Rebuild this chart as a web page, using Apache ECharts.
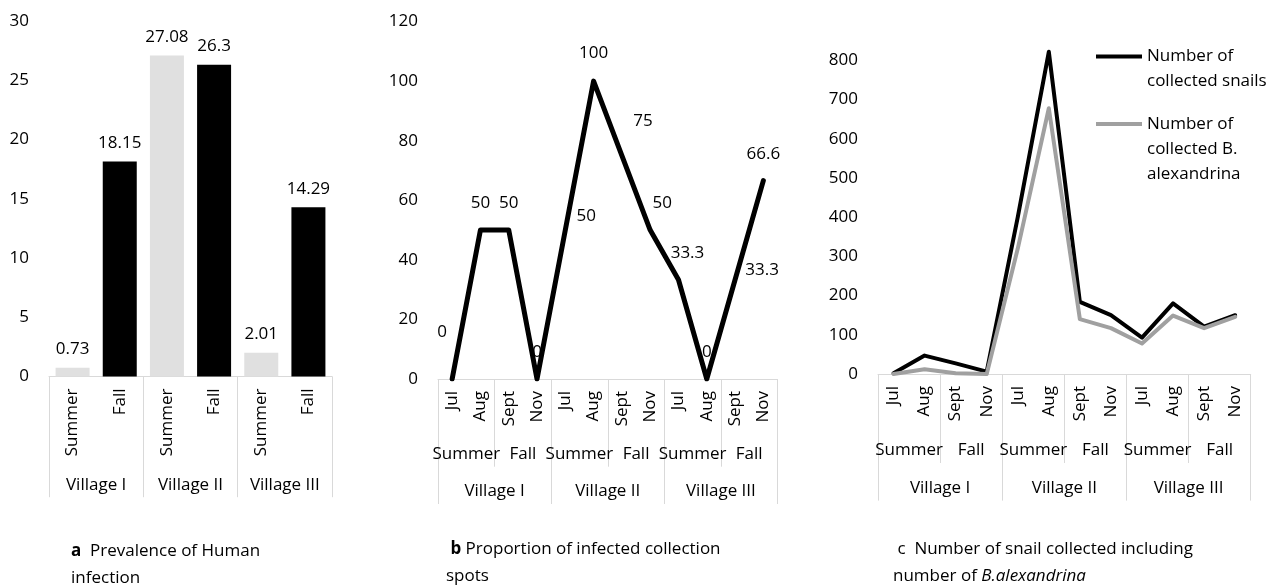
<!DOCTYPE html>
<html>
<head>
<meta charset="utf-8">
<script src="https://cdn.jsdelivr.net/npm/echarts@6/dist/echarts.min.js"></script>
<style>
  html, body { margin: 0; padding: 0; background: #fff; }
  #chart { width: 1266px; height: 588px; }
</style>
</head>
<body>
<div id="chart"></div>
<script>
// a  prevalence of human infection
const seasonsA = ['Summer', 'Fall', 'Summer', 'Fall', 'Summer', 'Fall']
const villages = ['Village I', 'Village II', 'Village III']
const prevalence = [0.73, 18.15, 27.08, 26.3, 2.01, 14.29]

// b / c  month - season - village
const months = ['Jul', 'Aug', 'Sept', 'Nov', 'Jul', 'Aug', 'Sept', 'Nov', 'Jul', 'Aug', 'Sept', 'Nov']
const seasons = ['Summer', 'Fall', 'Summer', 'Fall', 'Summer', 'Fall']
const infectedSpots = [0, 50, 50, 0, 50, 100, 75, 50, 33.3, 0, 33.3, 66.6]
const snails = [2, 47, 27, 6, 400, 822, 184, 150, 93, 180, 121, 150]
const alexandrina = [0, 12, 2, 0, 320, 678, 140, 117, 78, 149, 117, 146]
const snailNames = ['Number of\ncollected snails', 'Number of\ncollected B.\nalexandrina']

// value axes
const yA = { max: 30, interval: 5 }
const yB = { max: 120, interval: 20 }
const yC = { max: 900, interval: 100, lastLabel: 800 }

// label nudges for b (excel moved some of them by hand)
const spotLabelOffset = [[-10, -47], [0, -27], [0, -27], [0, -27], [21, -14], [0, -28],
  [21, -34], [12, -27], [9, -27], [0, -27], [27, -10], [0, -26]]

const GRAY = '#d9d9d9'
const FONT = 17
const barColors = { Summer: '#e0e0e0', Fall: '#000000' }

function monthAxis (gridIndex, data) {
  return {
    type: 'category',
    gridIndex: gridIndex,
    data: data,
    position: 'bottom',
    axisLine: { lineStyle: { color: GRAY, width: 1 } },
    axisTick: { show: false },
    axisLabel: { rotate: 90, margin: 12, interval: 0, fontSize: FONT, color: '#000' }
  }
}

// lower rows of the multi level axis: ticks go up from the row bottom
function groupAxis (gridIndex, data, depth) {
  return {
    type: 'category',
    gridIndex: gridIndex,
    data: data,
    position: 'bottom',
    offset: depth,
    axisLine: { show: false },
    axisTick: { show: true, inside: true, length: depth, interval: 0, lineStyle: { color: GRAY } },
    axisLabel: { inside: true, margin: 4, interval: 0, fontSize: FONT, color: '#000' }
  }
}

function valueAxis (gridIndex, cfg) {
  return {
    type: 'value',
    gridIndex: gridIndex,
    min: 0,
    max: cfg.max,
    interval: cfg.interval,
    axisLine: { show: false },
    axisTick: { show: false },
    splitLine: { show: false },
    axisLabel: {
      margin: 20,
      fontSize: FONT,
      color: '#000',
      formatter: (v) => (cfg.lastLabel !== undefined && v > cfg.lastLabel) ? '' : String(v)
    }
  }
}

function caption (text, left, top) {
  return {
    text: text,
    left: left,
    top: top,
    padding: 0,
    textStyle: {
      fontSize: FONT,
      fontWeight: 'normal',
      lineHeight: 27,
      color: '#000',
      rich: {
        b: { fontSize: FONT, fontWeight: 'bold', lineHeight: 27, color: '#000' },
        i: { fontSize: FONT, fontStyle: 'italic', lineHeight: 27, color: '#000' }
      }
    }
  }
}

// legend text is centred on the line sample, so blank lines above push the
// first text line level with the sample like in excel
function legendBox (name, top) {
  const lines = name.split('\n').length
  return {
    data: [name],
    left: 1096,
    top: top,
    padding: 0,
    orient: 'vertical',
    icon: 'rect',
    itemWidth: 46,
    itemHeight: 4,
    selectedMode: false,
    formatter: (n) => '\n'.repeat(lines - 1) + n,
    textStyle: { fontSize: FONT, lineHeight: 25, color: '#000' }
  }
}

const chart = echarts.init(document.getElementById('chart'))
chart.setOption({
  animation: false,
  textStyle: { fontFamily: 'Open Sans' },
  title: [
    caption('{b|a}  Prevalence of Human\ninfection', 71, 538),
    caption(' {b|b} Proportion of infected collection\nspots', 446, 536),
    caption(' c  Number of snail collected including\nnumber of {i|B.alexandrina}', 893, 536)
  ],
  legend: [
    legendBox(snailNames[0], 19),
    legendBox(snailNames[1], 61.5)
  ],
  grid: [
    { left: 49, top: 21, width: 283, height: 355.5 },
    { left: 438, top: 21.5, width: 339.5, height: 357.5 },
    { left: 878, top: 21.2, width: 372.7, height: 352.8 }
  ],
  xAxis: [
    monthAxis(0, seasonsA),
    groupAxis(0, villages, 120.7),
    monthAxis(1, months),
    groupAxis(1, seasons, 87.7),
    groupAxis(1, villages, 125),
    monthAxis(2, months),
    groupAxis(2, seasons, 89),
    groupAxis(2, villages, 126.6)
  ],
  yAxis: [
    valueAxis(0, yA),
    valueAxis(1, yB),
    valueAxis(2, yC)
  ],
  series: [
    {
      type: 'bar',
      xAxisIndex: 0,
      yAxisIndex: 0,
      barWidth: 34,
      data: prevalence.map((v, i) => ({ value: v, itemStyle: { color: barColors[seasonsA[i]] } })),
      label: { show: true, position: 'top', distance: 10, fontSize: FONT, color: '#000' }
    },
    {
      type: 'line',
      xAxisIndex: 2,
      yAxisIndex: 1,
      symbol: 'circle',
      symbolSize: 1,
      itemStyle: { color: '#000' },
      lineStyle: { color: '#000', width: 5, join: 'round', cap: 'round' },
      data: infectedSpots.map((v, i) => ({ value: v, label: { offset: spotLabelOffset[i] } })),
      label: { show: true, position: 'inside', fontSize: FONT, color: '#000' }
    },
    {
      name: snailNames[0],
      type: 'line',
      xAxisIndex: 5,
      yAxisIndex: 2,
      symbol: 'none',
      itemStyle: { color: '#000' },
      lineStyle: { color: '#000', width: 4, join: 'round', cap: 'round' },
      data: snails
    },
    {
      name: snailNames[1],
      type: 'line',
      xAxisIndex: 5,
      yAxisIndex: 2,
      symbol: 'none',
      itemStyle: { color: '#a0a0a0' },
      lineStyle: { color: '#a0a0a0', width: 4, join: 'round', cap: 'round' },
      data: alexandrina
    }
  ]
})
</script>
</body>
</html>
